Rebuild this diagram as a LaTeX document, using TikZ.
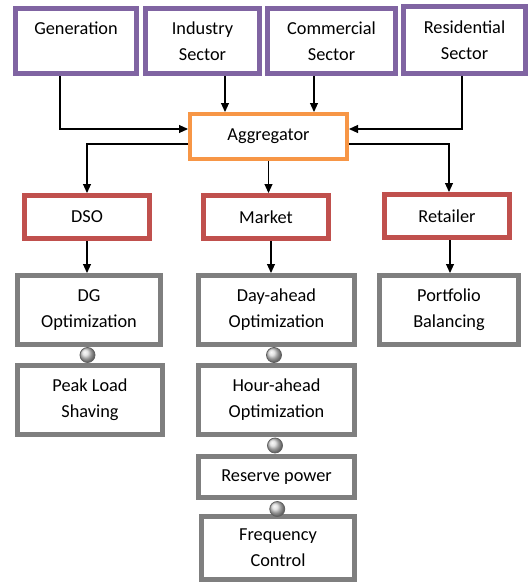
\documentclass[tikz,border=0pt]{standalone}
\usepackage{fontspec}
\setmainfont{Carlito}
\usetikzlibrary{arrows.meta,calc}
\definecolor{cpurple}{HTML}{8064A2}
\definecolor{corange}{HTML}{F79646}
\definecolor{cred}{HTML}{C0504D}
\definecolor{cgray}{HTML}{7F7F7F}
\begin{document}
\begin{tikzpicture}[x=1pt,y=-1pt,
  every node/.style={font=\fontsize{18.3}{26}\selectfont, align=center, inner sep=0pt},
  boxbase/.style={draw, rectangle, fill=white, line width=5pt},
  srcbox/.style={boxbase, draw=cpurple},
  aggbox/.style={boxbase, draw=corange, line width=4pt},
  rolebox/.style={boxbase, draw=cred},
  taskbox/.style={boxbase, draw=cgray},
  arr/.style={-{Triangle[length=9pt,width=8pt]}, line width=1.1pt, black},
  ball/.style={circle, minimum size=15pt, draw=gray!75!black, line width=0.8pt, shading=ball, ball color=gray!30}
]
\useasboundingbox (0,0) rectangle (532,584);
% sources
\node[srcbox, minimum width=121pt, minimum height=65pt] (gen) at (76,41) {Generation\\\mbox{}};
\node[srcbox, minimum width=114pt, minimum height=65pt] (ind) at (202.5,41) {Industry\\Sector};
\node[srcbox, minimum width=128pt, minimum height=65pt] (com) at (331.5,41) {Commercial\\Sector};
\node[srcbox, minimum width=122pt, minimum height=67pt] (res) at (464.5,40) {Residential\\Sector};
% aggregator
\node[aggbox, minimum width=157pt, minimum height=45pt] (agg) at (268.5,136.5) {Aggregator};
% roles
\node[rolebox, minimum width=125pt, minimum height=43pt] (dso) at (87,217) {DSO};
\node[rolebox, minimum width=125pt, minimum height=43pt] (mkt) at (266,217) {Market};
\node[rolebox, minimum width=125pt, minimum height=43pt] (ret) at (447,216) {Retailer};
% tasks
\node[taskbox, minimum width=143pt, minimum height=69pt] (dg) at (89,310) {DG\\Optimization};
\node[taskbox, minimum width=145pt, minimum height=69pt] (peak) at (90,400) {Peak Load\\Shaving};
\node[taskbox, minimum width=156pt, minimum height=69pt] (day) at (276.5,310) {Day-ahead\\Optimization};
\node[taskbox, minimum width=156pt, minimum height=69pt] (hour) at (276.5,400) {Hour-ahead\\Optimization};
\node[taskbox, minimum width=156pt, minimum height=41pt] (resv) at (276.5,477) {Reserve power};
\node[taskbox, minimum width=153pt, minimum height=63pt] (freq) at (278,548) {Frequency\\Control};
\node[taskbox, minimum width=139pt, minimum height=69pt] (port) at (449,310) {Portfolio\\Balancing};
% inputs to aggregator
\draw[arr] ([xshift=-16pt]gen.south) |- ([yshift=7.5pt]agg.west);
\draw[arr] ([xshift=22.5pt]ind.south) -- ([xshift=22.5pt]ind.south |- agg.north);
\draw[arr] ([xshift=-17.5pt]com.south) -- ([xshift=-17.5pt]com.south |- agg.north);
\draw[arr] ([xshift=-2.5pt]res.south) |- ([yshift=7.5pt]agg.east);
% aggregator outputs
\draw[arr] ([yshift=-7.5pt]agg.west) -| (dso.north);
\draw[arr] (agg.south) -- (agg.south |- mkt.north);
\draw[arr] ([yshift=-7.5pt]agg.east) -| ([xshift=2pt]ret.north);
% roles to tasks
\draw[arr] (dso.south) -- (dso.south |- dg.north);
\draw[arr] ([xshift=5pt]mkt.south) -- ([xshift=5pt]mkt.south |- day.north);
\draw[arr] ([xshift=3pt]ret.south) -- ([xshift=3pt]ret.south |- port.north);
% connector balls
\node[ball] (b1) at ($(dg.south)!0.5!(peak.north)+(-2,0)$) {};
\node[ball] (b2) at ($(day.south)!0.5!(hour.north)+(-2.5,0)$) {};
\node[ball] (b3) at ($(hour.south)!0.5!(resv.north)+(-1.5,0)$) {};
\node[ball] (b4) at ($(resv.south)!0.5!(freq.north)+(0,2)$) {};
\end{tikzpicture}
\end{document}
